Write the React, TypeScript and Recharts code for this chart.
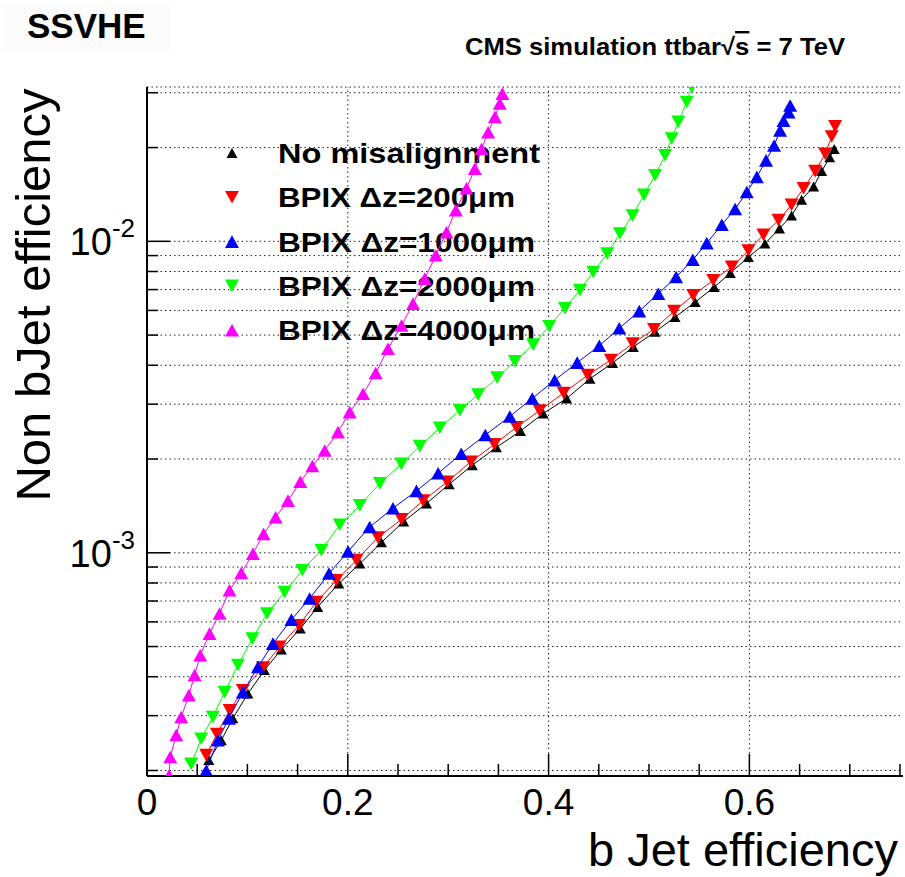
import React from "react"
import {
  CartesianGrid,
  ReferenceLine,
  Scatter,
  ScatterChart,
  XAxis,
  YAxis,
} from "recharts"

// b-tag efficiency (x) vs mistag rate (y)
const noMisX = [0.0616, 0.074, 0.0855, 0.1005, 0.117, 0.1338, 0.1527, 0.17, 0.191, 0.212, 0.2335, 0.2557, 0.2784, 0.301, 0.324, 0.348, 0.372, 0.3946, 0.418, 0.4412, 0.4638, 0.4844, 0.506, 0.526, 0.546, 0.565, 0.581, 0.599, 0.6155, 0.63, 0.642, 0.652, 0.664, 0.672, 0.68, 0.6845]
const noMisY = [2.16e-4, 2.5e-4, 2.94e-4, 3.53e-4, 4.2e-4, 4.89e-4, 5.71e-4, 6.7e-4, 7.96e-4, 9.23e-4, 1.08e-3, 1.26e-3, 1.44e-3, 1.66e-3, 1.91e-3, 2.18e-3, 2.46e-3, 2.8e-3, 3.13e-3, 3.62e-3, 4.07e-3, 4.58e-3, 5.12e-3, 5.71e-3, 6.38e-3, 7.13e-3, 7.91e-3, 8.9e-3, 9.83e-3, 1.1e-2, 1.21e-2, 1.36e-2, 1.5e-2, 1.68e-2, 1.86e-2, 1.98e-2]

const dz200X = [0.059, 0.0696, 0.0823, 0.0955, 0.1155, 0.132, 0.1513, 0.1687, 0.1886, 0.2086, 0.23, 0.2535, 0.275, 0.299, 0.3225, 0.346, 0.368, 0.391, 0.415, 0.439, 0.462, 0.4837, 0.505, 0.525, 0.544, 0.564, 0.5825, 0.599, 0.614, 0.629, 0.642, 0.654, 0.6655, 0.6755, 0.682, 0.6854]
const dz200Y = [2.24e-4, 2.62e-4, 3.12e-4, 3.62e-4, 4.28e-4, 4.99e-4, 5.85e-4, 6.95e-4, 8.16e-4, 9.47e-4, 1.12e-3, 1.28e-3, 1.47e-3, 1.69e-3, 1.96e-3, 2.23e-3, 2.53e-3, 2.86e-3, 3.26e-3, 3.72e-3, 4.16e-3, 4.7e-3, 5.22e-3, 5.97e-3, 6.71e-3, 7.5e-3, 8.28e-3, 9.35e-3, 1.05e-2, 1.17e-2, 1.31e-2, 1.48e-2, 1.68e-2, 1.91e-2, 2.17e-2, 2.34e-2]

const dz1000X = [0.059, 0.0706, 0.0816, 0.0955, 0.1105, 0.1254, 0.1438, 0.162, 0.1813, 0.2002, 0.2218, 0.245, 0.2684, 0.29, 0.313, 0.337, 0.3614, 0.3837, 0.406, 0.4285, 0.4505, 0.4704, 0.4903, 0.5093, 0.527, 0.5436, 0.5575, 0.5725, 0.5858, 0.5974, 0.6074, 0.6166, 0.6246, 0.6306, 0.634, 0.639, 0.6406]
const dz1000Y = [2.0e-4, 2.5e-4, 2.94e-4, 3.57e-4, 4.3e-4, 5.11e-4, 6.1e-4, 7.13e-4, 8.58e-4, 1.01e-3, 1.21e-3, 1.39e-3, 1.58e-3, 1.8e-3, 2.08e-3, 2.39e-3, 2.74e-3, 3.13e-3, 3.58e-3, 4.08e-3, 4.62e-3, 5.26e-3, 5.97e-3, 6.79e-3, 7.68e-3, 8.73e-3, 9.87e-3, 1.13e-2, 1.27e-2, 1.44e-2, 1.61e-2, 1.82e-2, 2.03e-2, 2.27e-2, 2.44e-2, 2.6e-2, 2.73e-2]

const dz2000X = [0.044, 0.054, 0.0656, 0.0773, 0.0906, 0.105, 0.1195, 0.137, 0.1547, 0.1737, 0.192, 0.212, 0.232, 0.2535, 0.2717, 0.2916, 0.3116, 0.3298, 0.3488, 0.3664, 0.3847, 0.4006, 0.4163, 0.4312, 0.4445, 0.4584, 0.471, 0.4837, 0.495, 0.506, 0.516, 0.5226, 0.5292, 0.5376, 0.5425]
const dz2000Y = [2.1e-4, 2.53e-4, 2.97e-4, 3.57e-4, 4.36e-4, 5.3e-4, 6.38e-4, 7.48e-4, 8.79e-4, 1.02e-3, 1.23e-3, 1.42e-3, 1.67e-3, 1.93e-3, 2.2e-3, 2.52e-3, 2.87e-3, 3.22e-3, 3.65e-3, 4.12e-3, 4.66e-3, 5.34e-3, 6.1e-3, 6.97e-3, 7.97e-3, 9.13e-3, 1.06e-2, 1.21e-2, 1.41e-2, 1.63e-2, 1.89e-2, 2.14e-2, 2.42e-2, 2.8e-2, 3.13e-2]

const dz4000X = [0.022, 0.0231, 0.0291, 0.0341, 0.0417, 0.0474, 0.053, 0.0623, 0.0723, 0.0822, 0.0939, 0.1055, 0.1161, 0.1281, 0.1404, 0.1527, 0.1647, 0.177, 0.1902, 0.2019, 0.2152, 0.2278, 0.24, 0.2535, 0.265, 0.2767, 0.2876, 0.2983, 0.3076, 0.3182, 0.3265, 0.3332, 0.3398, 0.3465, 0.3514, 0.354]
const dz4000Y = [1.93e-4, 2.21e-4, 2.6e-4, 2.97e-4, 3.49e-4, 4.05e-4, 4.69e-4, 5.5e-4, 6.38e-4, 7.58e-4, 8.61e-4, 9.94e-4, 1.15e-3, 1.3e-3, 1.47e-3, 1.69e-3, 1.9e-3, 2.13e-3, 2.44e-3, 2.83e-3, 3.24e-3, 3.78e-3, 4.52e-3, 5.37e-3, 6.31e-3, 7.59e-3, 9.02e-3, 1.07e-2, 1.26e-2, 1.48e-2, 1.71e-2, 1.98e-2, 2.24e-2, 2.51e-2, 2.77e-2, 2.98e-2]

const seriesNames = ["No misalignment", "BPIX \u0394z=200\u03bcm", "BPIX \u0394z=1000\u03bcm", "BPIX \u0394z=2000\u03bcm", "BPIX \u0394z=4000\u03bcm"]
const seriesColors = ["#000000", "#ff0000", "#0000ff", "#00ff00", "#ff00ff"]
const seriesDown = [false, true, false, true, false]

const xTicks = [0, 0.05, 0.1, 0.15, 0.2, 0.25, 0.3, 0.35, 0.4, 0.45, 0.5, 0.55, 0.6, 0.65, 0.7, 0.75]
const xMajor = [0, 0.2, 0.4, 0.6]
const xLabels = ["0", "0.2", "0.4", "0.6"]
const yTicks = [2e-4, 3e-4, 4e-4, 5e-4, 6e-4, 7e-4, 8e-4, 9e-4, 1e-3, 2e-3, 3e-3, 4e-3, 5e-3, 6e-3, 7e-3, 8e-3, 9e-3, 1e-2, 2e-2, 3e-2]
const yMajor = [1e-3, 1e-2]
const yExp = ["-3", "-2"]

const X_DOMAIN: [number, number] = [0, 0.753]
const Y_DOMAIN: [number, number] = [1.92e-4, 0.0313]
const FONT = "'Liberation Sans', Arial, Helvetica, sans-serif"

const zip = (xs: number[], ys: number[]) => xs.map((x, i) => ({ x, y: ys[i] }))
const seriesData = [
  zip(noMisX, noMisY),
  zip(dz200X, dz200Y),
  zip(dz1000X, dz1000Y),
  zip(dz2000X, dz2000Y),
  zip(dz4000X, dz4000Y),
]

const near = (a: number, b: number) => Math.abs(a - b) < 1e-9 * Math.max(1, Math.abs(b))

function triPoints(cx: number, cy: number, down: boolean, w: number) {
  const h = w * 0.9
  if (down) return `${cx - w / 2},${cy - h / 2} ${cx + w / 2},${cy - h / 2} ${cx},${cy + h / 2}`
  return `${cx - w / 2},${cy + h / 2} ${cx + w / 2},${cy + h / 2} ${cx},${cy - h / 2}`
}

const markerShape = (color: string, down: boolean, w: number) => (props: any) => {
  const { cx, cy } = props
  if (cx == null || cy == null) return <g />
  return <polygon points={triPoints(cx, cy, down, w)} fill={color} />
}

function BottomTick(props: any) {
  const { x, y, payload } = props
  const idx = xMajor.findIndex((v) => near(v, payload.value))
  const major = idx >= 0
  return (
    <g>
      <line x1={x} x2={x} y1={y} y2={y - (major ? 22 : 12)} stroke="#000" strokeWidth={1.5} />
      {major && (
        <text x={x} y={y + 39} textAnchor="middle" fontSize={37} fontFamily={FONT} fill="#000">
          {xLabels[idx]}
        </text>
      )}
    </g>
  )
}

function TopTick(props: any) {
  const { x, y, payload } = props
  const major = xMajor.some((v) => near(v, payload.value))
  return <line x1={x} x2={x} y1={y} y2={y + (major ? 22 : 11)} stroke="#000" strokeWidth={1.5} />
}

function LeftTick(props: any) {
  const { x, y, payload } = props
  const idx = yMajor.findIndex((v) => near(v, payload.value))
  const major = idx >= 0
  return (
    <g>
      <line x1={x} x2={x + (major ? 23 : 11)} y1={y} y2={y} stroke="#000" strokeWidth={1.5} />
      {major && (
        <text x={x - 12} y={y + 14} textAnchor="end" fontSize={38} fontFamily={FONT} fill="#000">
          <tspan>10</tspan>
          <tspan dy={-18} fontSize={26}>{yExp[idx]}</tspan>
        </text>
      )}
    </g>
  )
}

function RightTick(props: any) {
  const { x, y, payload } = props
  const major = yMajor.some((v) => near(v, payload.value))
  return <line x1={x} x2={x - (major ? 23 : 11)} y1={y} y2={y} stroke="#000" strokeWidth={1.5} />
}

function LegendBlock() {
  return (
    <g>
      {seriesNames.map((name, i) => {
        const base = 163 + i * 44.3
        const w = name === seriesNames[0] ? 262 : name.length > 13 ? 257 : 237
        return (
          <g key={name}>
            <polygon points={triPoints(232, base - 10, seriesDown[i], i === 0 ? 11 : 14)} fill={seriesColors[i]} />
            <text x={278} y={base} fontSize={28} fontWeight="bold" fontFamily={FONT} fill="#000" textLength={w} lengthAdjust="spacingAndGlyphs">
              {name}
            </text>
          </g>
        )
      })}
    </g>
  )
}

export default function App() {
  return (
    <div style={{ position: "absolute", left: 0, top: 0, width: 905, height: 877, background: "#fff" }}>
      <ScatterChart width={905} height={877} margin={{ top: 87, right: 2, bottom: 0, left: 0 }}>
        <rect x={4} y={4} width={166} height={48} fill="#fbfbfb" />
        <text x={27} y={38} fontSize={35} fontWeight="bold" fontFamily={FONT} fill="#000">SSVHE</text>
        <text x={465} y={55} fontSize={24} fontWeight="bold" fontFamily={FONT} fill="#000" textLength={380} lengthAdjust="spacingAndGlyphs">
          CMS simulation ttbar{"\u221a"}<tspan style={{ textDecoration: "overline" }}>s</tspan> = 7 TeV
        </text>
        <text transform="translate(50, 295) rotate(-90)" textAnchor="middle" fontSize={49} fontFamily={FONT} fill="#000">
          Non bJet efficiency
        </text>
        <text x={898} y={866} textAnchor="end" fontSize={47} fontFamily={FONT} fill="#000">
          b Jet efficiency
        </text>
        <CartesianGrid vertical={false} stroke="#222" strokeDasharray="1.5 3" />
        {xMajor.slice(1).map((v) => (
          <ReferenceLine key={v} x={v} stroke="#222" strokeDasharray="1.5 3" />
        ))}
        <LegendBlock />
        <XAxis
          dataKey="x"
          type="number"
          domain={X_DOMAIN}
          allowDataOverflow
          ticks={xTicks}
          interval={0}
          height={101}
          tickSize={0}
          tickMargin={0}
          tick={<BottomTick />}
          axisLine={{ stroke: "#000", strokeWidth: 2 }}
        />
        <XAxis
          xAxisId="t"
          orientation="top"
          type="number"
          domain={X_DOMAIN}
          allowDataOverflow
          ticks={xTicks}
          interval={0}
          height={0}
          tickSize={0}
          tickMargin={0}
          tick={<TopTick />}
          axisLine={{ stroke: "#000", strokeWidth: 2 }}
        />
        <YAxis
          dataKey="y"
          type="number"
          scale="log"
          domain={Y_DOMAIN}
          allowDataOverflow
          ticks={yTicks}
          interval={0}
          width={147}
          tickSize={0}
          tickMargin={0}
          tick={<LeftTick />}
          axisLine={{ stroke: "#000", strokeWidth: 2 }}
        />
        <YAxis
          yAxisId="r"
          orientation="right"
          type="number"
          scale="log"
          domain={Y_DOMAIN}
          allowDataOverflow
          ticks={yTicks}
          interval={0}
          width={0}
          tickSize={0}
          tickMargin={0}
          tick={<RightTick />}
          axisLine={{ stroke: "#000", strokeWidth: 2 }}
        />
        {seriesData.map((data, i) => (
          <Scatter
            key={seriesNames[i]}
            name={seriesNames[i]}
            data={data}
            fill={seriesColors[i]}
            line={{ stroke: seriesColors[i], strokeWidth: 1 }}
            shape={markerShape(seriesColors[i], seriesDown[i], i === 0 ? 11 : 14)}
            isAnimationActive={false}
          />
        ))}
      </ScatterChart>
    </div>
  )
}
